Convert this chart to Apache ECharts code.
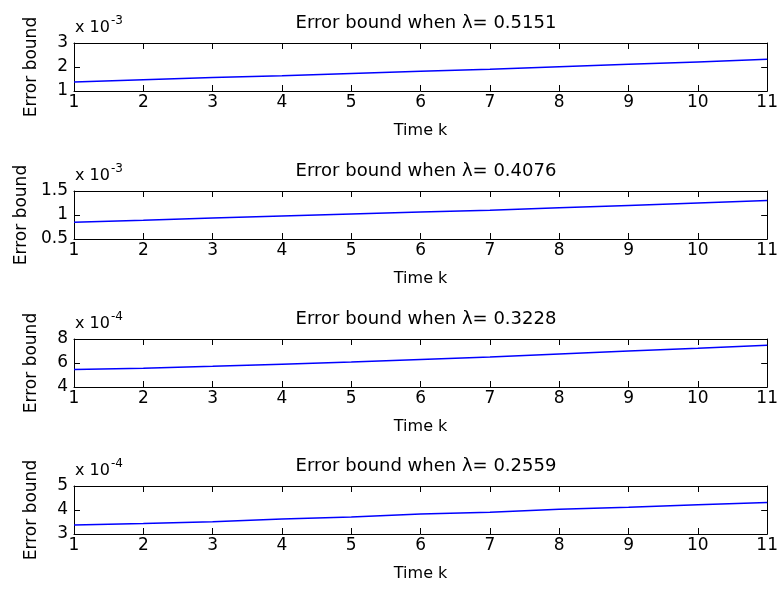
<!DOCTYPE html>
<html>
<head>
<meta charset="utf-8">
<script src="https://cdn.jsdelivr.net/npm/echarts@6/dist/echarts.min.js"></script>
<style>
  html, body { margin: 0; padding: 0; background: #fff; }
  #chart { width: 781px; height: 589px; }
</style>
</head>
<body>
<div id="chart"></div>
<script>
// time steps on the x axis
var timeK = [1, 2, 3, 4, 5, 6, 7, 8, 9, 10, 11];

// lambda value shown in each subplot title
var lambdas = ['0.5151', '0.4076', '0.3228', '0.2559'];

// error bound curves
var bound1 = [1.37e-3, 1.47e-3, 1.56e-3, 1.64e-3, 1.73e-3, 1.82e-3, 1.91e-3, 2.01e-3, 2.11e-3, 2.21e-3, 2.32e-3];
var bound2 = [0.85e-3, 0.89e-3, 0.94e-3, 0.98e-3, 1.02e-3, 1.06e-3, 1.10e-3, 1.15e-3, 1.20e-3, 1.25e-3, 1.30e-3];
var bound3 = [5.45e-4, 5.57e-4, 5.72e-4, 5.90e-4, 6.08e-4, 6.30e-4, 6.50e-4, 6.75e-4, 7.00e-4, 7.22e-4, 7.48e-4];
var bound4 = [3.38e-4, 3.44e-4, 3.51e-4, 3.63e-4, 3.71e-4, 3.83e-4, 3.91e-4, 4.03e-4, 4.11e-4, 4.22e-4, 4.31e-4];

// y axis range per subplot: [min, max, step] in units of 10^exp
var yRanges = [[1, 3, 1], [0.5, 1.5, 0.5], [4, 8, 2], [3, 5, 1]];
var exponents = [-3, -3, -4, -4];

var series = [bound1, bound2, bound3, bound4];
var gridTops = [43, 191, 339, 486];
var gridLeft = 74, gridRight = 9, gridH = 48;
var font = 'DejaVu Sans';

var option = {
    backgroundColor: '#fff',
    animation: false,
    title: [], grid: [], xAxis: [], yAxis: [], series: [], graphic: []
};

for (var i = 0; i < 4; i++) {
    var scale = Math.pow(10, exponents[i]);
    var r = yRanges[i];
    option.grid.push({ left: gridLeft, right: gridRight, top: gridTops[i], height: gridH });
    option.title.push({
        text: 'Error bound when \u03bb= ' + lambdas[i],
        left: 421, top: gridTops[i] - 34, textAlign: 'center',
        textStyle: { fontFamily: font, fontSize: 18, fontWeight: 'normal', color: '#000' }
    });
    var lineStyle = { color: '#000', width: 1 };
    option.xAxis.push({
        type: 'value', gridIndex: i, min: 1, max: 11, interval: 1,
        name: 'Time k', nameLocation: 'middle', nameGap: 32,
        nameTextStyle: { fontFamily: font, fontSize: 16, color: '#000' },
        axisLine: { lineStyle: lineStyle },
        axisTick: { inside: true, length: 6, lineStyle: lineStyle },
        axisLabel: { fontFamily: font, fontSize: 17, color: '#000', margin: 3 },
        splitLine: { show: false }
    });
    option.xAxis.push({
        type: 'value', gridIndex: i, position: 'top', min: 1, max: 11, interval: 1,
        axisLine: { lineStyle: lineStyle },
        axisTick: { inside: true, length: 6, lineStyle: lineStyle },
        axisLabel: { show: false }, splitLine: { show: false }
    });
    (function (scale) {
        option.yAxis.push({
            type: 'value', gridIndex: i, min: r[0] * scale, max: r[1] * scale, interval: r[2] * scale,
            name: 'Error bound', nameLocation: 'middle', nameGap: 34,
            nameTextStyle: { fontFamily: font, fontSize: 17, color: '#000' },
            axisLine: { show: true, lineStyle: lineStyle },
            axisTick: { show: true, inside: true, length: 6, lineStyle: lineStyle },
            axisLabel: {
                fontFamily: font, fontSize: 17, color: '#000', margin: 6,
                formatter: function (v) { return String(Math.round(v / scale * 10) / 10); }
            },
            splitLine: { show: false }
        });
    })(scale);
    option.yAxis.push({
        type: 'value', gridIndex: i, position: 'right',
        min: r[0] * scale, max: r[1] * scale, interval: r[2] * scale,
        axisLine: { show: true, lineStyle: lineStyle },
        axisTick: { show: true, inside: true, length: 6, lineStyle: lineStyle },
        axisLabel: { show: false }, splitLine: { show: false }
    });
    option.series.push({
        type: 'line', xAxisIndex: 2 * i, yAxisIndex: 2 * i,
        data: timeK.map(function (k, j) { return [k, series[i][j]]; }),
        showSymbol: false, lineStyle: { color: '#0000ff', width: 1.5 }
    });
    option.graphic.push({
        type: 'text', left: 75, top: gridTops[i] - 23,
        style: { text: 'x 10', font: '16px "' + font + '"', fill: '#000' }
    });
    option.graphic.push({
        type: 'text', left: 111, top: gridTops[i] - 28,
        style: { text: String(exponents[i]), font: '12px "' + font + '"', fill: '#000' }
    });
}

var chart = echarts.init(document.getElementById('chart'));
chart.setOption(option);
</script>
</body>
</html>
